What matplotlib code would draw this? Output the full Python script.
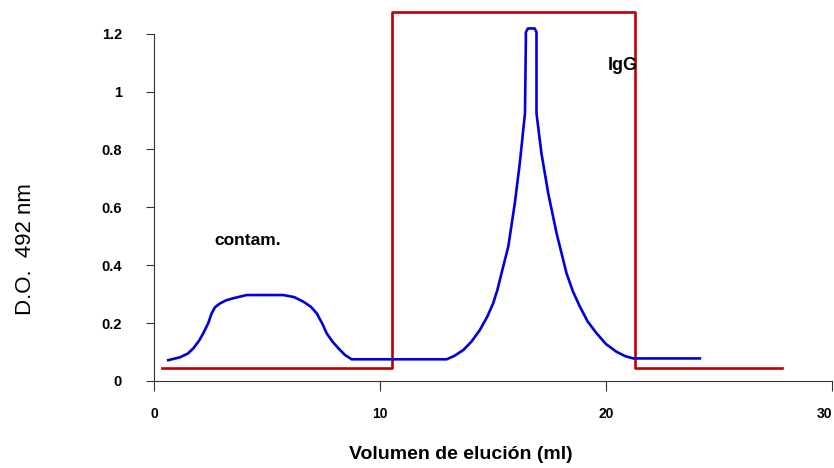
import matplotlib.pyplot as plt

plt.rcParams['font.family'] = ['Liberation Sans', 'DejaVu Sans']

# red step (fractions collected)
red_x = [0.34, 10.55, 10.55, 21.3, 21.3, 27.8]
red_y = [0.046, 0.046, 1.275, 1.275, 0.046, 0.046]

# blue elution profile
blue_x = [0.63, 1.15, 1.50, 1.74, 2.00, 2.18, 2.40, 2.55, 2.70, 2.92, 3.20, 3.51, 4.10,
          5.72, 6.20, 6.61, 6.95, 7.20, 7.45, 7.64, 7.90, 8.16, 8.45, 8.75,
          12.95, 13.30, 13.69, 14.05, 14.42, 14.75, 15.01, 15.20, 15.38, 15.68, 15.97, 16.19,
          16.42, 16.46, 16.46, 16.55, 16.85, 16.93, 16.93, 17.15, 17.45, 17.82, 18.26, 18.55,
          18.85, 19.20, 19.59, 20.00, 20.47, 20.85, 21.21, 24.16]
blue_y = [0.072, 0.082, 0.095, 0.113, 0.140, 0.165, 0.200, 0.234, 0.255, 0.268, 0.279, 0.286, 0.297,
          0.297, 0.290, 0.274, 0.256, 0.234, 0.198, 0.165, 0.136, 0.113, 0.090, 0.075,
          0.075, 0.087, 0.107, 0.136, 0.176, 0.222, 0.268, 0.315, 0.372, 0.464, 0.614, 0.752,
          0.925, 1.178, 1.205, 1.218, 1.218, 1.205, 0.925, 0.786, 0.648, 0.510, 0.372, 0.308,
          0.257, 0.205, 0.165, 0.128, 0.101, 0.086, 0.078, 0.078]

xticks = [0, 10, 20, 30]
yticks = [0, 0.2, 0.4, 0.6, 0.8, 1, 1.2]
ytick_labels = ['0', '0.2', '0.4', '0.6', '0.8', '1', '1.2']

fig = plt.figure(figsize=(8.34, 4.68), dpi=100)
ax = fig.add_axes([0.1847, 0.1859, 0.8126, 0.804])

ax.plot(red_x, red_y, color='#c00000', lw=1.9, clip_on=False)
ax.plot(blue_x, blue_y, color='#0000dd', lw=1.9, clip_on=False)

ax.set_xlim(0, 30)
ax.set_ylim(0, 1.3)
ax.spines['top'].set_visible(False)
ax.spines['right'].set_visible(False)
ax.spines['left'].set_bounds(0, 1.2)
ax.spines['left'].set_color('#333333')
ax.spines['bottom'].set_color('#333333')

ax.set_xticks(xticks)
ax.set_xticklabels([str(t) for t in xticks], fontsize=10, fontweight='bold')
ax.set_yticks(yticks)
ax.set_yticklabels(ytick_labels, fontsize=10.5, fontweight='bold')
ax.tick_params(axis='x', direction='out', length=7, pad=12, color='#333333')
ax.tick_params(axis='y', direction='out', length=6, pad=17, color='#333333')
last = ax.get_xticklabels()[-1]
last.set_horizontalalignment('right')

ax.text(2.65, 0.487, 'contam.', fontsize=12.5, fontweight='bold', va='center')
ax.text(20.1, 1.09, 'IgG', fontsize=13, fontweight='bold', va='center')

fig.text(0.552, 0.028, 'Volumen de elución (ml)', fontsize=14, fontweight='bold', ha='center', va='center')
fig.text(0.03, 0.468, 'D.O.  492 nm', fontsize=16, rotation=90, ha='center', va='center')

plt.savefig('out.png', dpi=100)
